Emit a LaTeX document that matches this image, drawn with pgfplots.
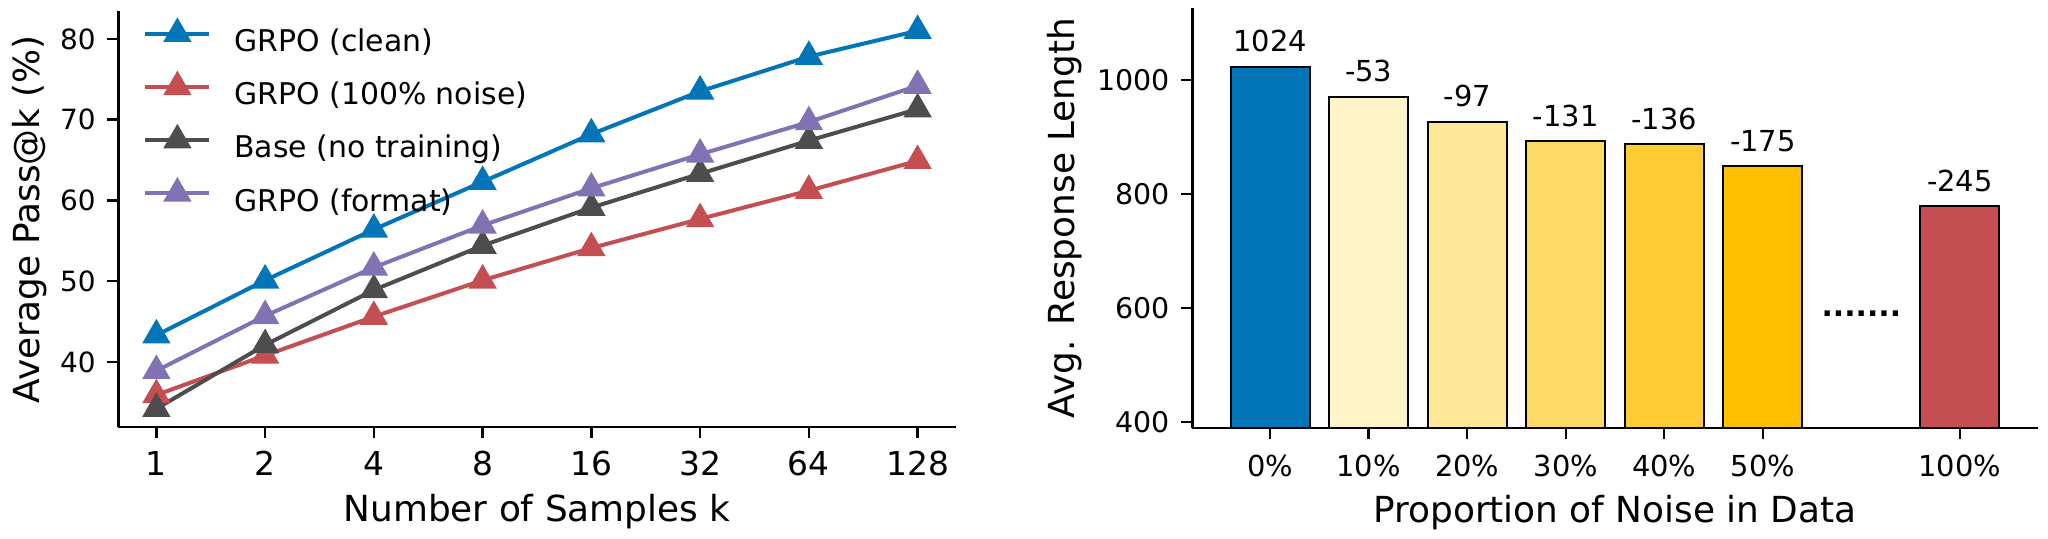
\documentclass[border=0pt]{standalone}
\usepackage{fontspec}
\setmainfont{DejaVu Sans}
\usepackage{pgfplots}
\usepackage{pgfplotstable}
\pgfplotsset{compat=1.18}
\definecolor{cblue}{HTML}{0175B7}
\definecolor{cred}{HTML}{C44E52}
\definecolor{cgray}{HTML}{4D4D4D}
\definecolor{cpurple}{HTML}{8172B3}
\definecolor{ya}{HTML}{FFF4C8}
\definecolor{yb}{HTML}{FFE798}
\definecolor{yc}{HTML}{FFD966}
\definecolor{yd}{HTML}{FFCC33}
\definecolor{ye}{HTML}{FFC000}

\pgfplotstableread{
k clean noise base format
0 43.3 35.9 34.2 38.9
1 50.1 40.8 42.1 45.7
2 56.4 45.6 48.9 51.7
3 62.3 50.1 54.4 56.9
4 68.2 54.1 59.1 61.5
5 73.5 57.7 63.3 65.7
6 77.8 61.2 67.4 69.7
7 81.0 64.9 71.3 74.2
}\passk

\pgfplotsset{
  mystyle/.style={
    scale only axis,
    axis x line*=bottom, axis y line*=left,
    axis line style={line width=1.2bp,-},
    tick align=outside, major tick length=5.5bp,
    tick style={line width=1.2bp,black},
    /pgf/number format/assume math mode=true,
    /pgf/number format/1000 sep={},
    xlabel style={at={(axis description cs:0.5,0)}, anchor=base, yshift=-47.2bp, font=\fontsize{18}{21}\selectfont, inner sep=0pt},
  },
}

\begin{document}
\begin{tikzpicture}
\useasboundingbox (0,0) rectangle (1024bp,269.5bp);
\begin{axis}[mystyle,
  at={(59.15bp,55.85bp)}, anchor=south west,
  width=418.7bp, height=208.15bp,
  xmin=-0.35, xmax=7.35, ymin=31.9, ymax=83.45,
  xtick={0,...,7}, xticklabels={1,2,4,8,16,32,64,128},
  ytick={40,50,60,70,80},
  xticklabel style={font=\fontsize{16.5}{19}\selectfont, anchor=base, inner sep=0pt, yshift=-18.7bp},
  yticklabel style={font=\fontsize{14}{16}\selectfont, anchor=east, inner sep=0pt, xshift=-5.65bp},
  xlabel={Number of Samples k},
  ylabel={Average Pass@k (\%)},
  ylabel style={at={(axis description cs:-0.0935,0.5)}, anchor=base, font=\fontsize{18}{21}\selectfont, inner sep=0pt},
  every axis plot/.append style={line width=2bp, mark=triangle*, mark size=6.2bp},
  legend style={at={(axis description cs:0.0295,0.976)}, anchor=north west, draw=none, fill=none,
    font=\fontsize{15}{17}\selectfont, row sep=8bp, inner sep=0pt, column sep=11.5bp,
    nodes={inner sep=0pt, text height=10.5bp, text depth=3.5bp}},
  legend cell align=left,
  legend image code/.code={\draw[mark repeat=2,mark phase=2,#1] plot coordinates {(0bp,5.4bp)(16bp,5.4bp)(32bp,5.4bp)};},
]
\addplot[cblue, mark options={fill=cblue,draw=cblue}] table[x=k,y=clean] {\passk};
\addlegendentry{GRPO (clean)}
\addplot[cred, mark options={fill=cred,draw=cred}] table[x=k,y=noise] {\passk};
\addlegendentry{GRPO (100\% noise)}
\addplot[cgray, mark options={fill=cgray,draw=cgray}] table[x=k,y=base] {\passk};
\addlegendentry{Base (no training)}
\addplot[cpurple, mark options={fill=cpurple,draw=cpurple}] table[x=k,y=format] {\passk};
\addlegendentry{GRPO (format)}
\end{axis}

\begin{axis}[mystyle,
  at={(596.15bp,55.65bp)}, anchor=south west,
  width=422.7bp, height=209.7bp,
  xmin=-0.79, xmax=7.79, ymin=390, ymax=1126.4,
  xtick={0,1,2,3,4,5,7}, xticklabels={0\%,10\%,20\%,30\%,40\%,50\%,100\%},
  ytick={400,600,800,1000},
  xticklabel style={font=\fontsize{14.5}{17}\selectfont, anchor=base, inner sep=0pt, yshift=-19bp},
  yticklabel style={font=\fontsize{14.3}{16}\selectfont, anchor=east, inner sep=0pt, xshift=-5.65bp},
  xlabel={Proportion of Noise in Data},
  ylabel={Avg. Response Length},
  ylabel style={at={(axis description cs:-0.1388,0.5)}, anchor=base, font=\fontsize{18}{21}\selectfont, inner sep=0pt},
  ybar, bar width=0.8,
  nodes near coords, point meta=explicit symbolic,
  every node near coord/.append style={font=\fontsize{14.5}{17}\selectfont, text=black, anchor=base, inner sep=0pt, yshift=7.5bp},
  every axis plot/.append style={bar shift=0pt, draw=black, line width=1bp},
]
\addplot[fill=cblue] table[meta=lab] {
x y lab
0 1024 1024
};
\addplot[fill=ya] table[meta=lab] {
x y lab
1 971 -53
};
\addplot[fill=yb] table[meta=lab] {
x y lab
2 927 -97
};
\addplot[fill=yc] table[meta=lab] {
x y lab
3 893 -131
};
\addplot[fill=yd] table[meta=lab] {
x y lab
4 888 -136
};
\addplot[fill=ye] table[meta=lab] {
x y lab
5 849 -175
};
\addplot[fill=cred] table[meta=lab] {
x y lab
7 779 -245
};
\node[font=\bfseries\fontsize{15}{17}\selectfont, inner sep=0pt] at (axis cs:6,590) {.......};
\end{axis}
\end{tikzpicture}
\end{document}
